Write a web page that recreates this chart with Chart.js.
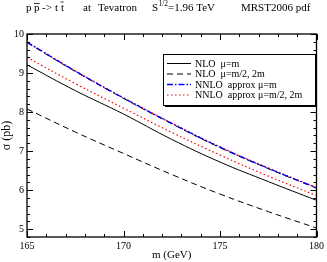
<!DOCTYPE html>
<html>
<head>
<meta charset="utf-8">
<script src="https://cdn.jsdelivr.net/npm/chart.js@4"></script>
<style>
  html, body { margin: 0; padding: 0; background: #fff; }
  #wrap { width: 327px; height: 262px; }
</style>
</head>
<body>
<div id="wrap"><canvas id="xsecChart" width="327" height="262"></canvas></div>
<script>
// top quark mass (GeV)
const mass = [165, 167.5, 170, 172.5, 175, 177.5, 180];

// cross sections (pb)
const nloCentral   = [9.21, 8.55, 7.95, 7.30, 6.72, 6.22, 5.74];
const nloLow       = [8.08, 7.49, 6.94, 6.40, 5.90, 5.45, 5.03];
const nloHigh      = [9.78, 9.04, 8.35, 7.70, 7.09, 6.55, 6.05];
const nnloCentral  = [9.79, 9.05, 8.36, 7.71, 7.10, 6.56, 6.06];
const nnloLow      = [9.40, 8.73, 8.10, 7.48, 6.90, 6.36, 5.86];
const nnloHigh     = [9.80, 9.06, 8.37, 7.72, 7.11, 6.57, 6.07];

const legendLabels = ["NLO  \u03bc=m", "NLO  \u03bc=m/2, 2m", "NNLO  approx \u03bc=m", "NNLO  approx \u03bc=m/2, 2m"];

const xTickLabels = [165, 170, 175, 180];
const yTickLabels = [5, 6, 7, 8, 9, 10];

const serif = '"Liberation Serif", "DejaVu Serif", serif';

function pts(ys) {
  return mass.map((m, i) => ({ x: m, y: ys[i] }));
}

const base = { fill: false, pointRadius: 0, tension: 0.4, borderWidth: 1 };

const datasets = [
  { ...base, label: legendLabels[0], data: pts(nloCentral), borderColor: "#000", order: 3 },
  { ...base, label: legendLabels[1], data: pts(nloLow), borderColor: "#000", borderDash: [6, 4], order: 4 },
  { ...base, label: "", data: pts(nloHigh), borderColor: "#000", borderDash: [6, 4], order: 5 },
  { ...base, label: legendLabels[3], data: pts(nnloLow), borderColor: "#ff0000", borderDash: [1.5, 2.5], borderWidth: 1.2, order: 2 },
  { ...base, label: "", data: pts(nnloHigh), borderColor: "#ff0000", borderDash: [1.5, 2.5], borderWidth: 1.2, order: 1 },
  { ...base, label: legendLabels[2], data: pts(nnloCentral), borderColor: "#0000ff", borderDash: [6, 2, 1.5, 2], borderWidth: 1.3, order: 0 }
];

// inward ticks on all four sides + frame
const frameTicks = {
  id: "frameTicks",
  afterDatasetsDraw(chart) {
    const { ctx, chartArea: a, scales } = chart;
    ctx.save();
    ctx.strokeStyle = "#000";
    ctx.lineWidth = 1;
    scales.x.ticks.forEach(t => {
      const px = Math.round(scales.x.getPixelForValue(t.value)) + 0.5;
      const len = xTickLabels.includes(t.value) ? 6 : 3;
      ctx.beginPath();
      ctx.moveTo(px, a.bottom); ctx.lineTo(px, a.bottom - len);
      ctx.moveTo(px, a.top); ctx.lineTo(px, a.top + len);
      ctx.stroke();
    });
    scales.y.ticks.forEach(t => {
      const py = Math.round(scales.y.getPixelForValue(t.value)) + 0.5;
      const major = yTickLabels.some(v => Math.abs(v - t.value) < 1e-6);
      const len = major ? 6 : 3;
      ctx.beginPath();
      ctx.moveTo(a.left, py); ctx.lineTo(a.left + len, py);
      ctx.moveTo(a.right, py); ctx.lineTo(a.right - len, py);
      ctx.stroke();
    });
    ctx.lineWidth = 1.3;
    ctx.strokeRect(a.left, a.top, a.right - a.left, a.bottom - a.top);
    ctx.restore();
  }
};

// legend box like grace
const boxLegend = {
  id: "boxLegend",
  afterDraw(chart) {
    const { ctx } = chart;
    const x0 = 163, y0 = 54, w = 152, h = 51;
    ctx.save();
    ctx.fillStyle = "#fff";
    ctx.fillRect(x0, y0, w, h);
    ctx.fillStyle = "#000";
    ctx.fillRect(x0 + 2, y0 + h, w, 2);
    ctx.fillRect(x0 + w, y0 + 2, 2, h);
    ctx.strokeStyle = "#000";
    ctx.lineWidth = 1;
    ctx.strokeRect(x0 + 0.5, y0 + 0.5, w, h);
    const order = [0, 1, 5, 3];
    ctx.font = "10px " + serif;
    ctx.textBaseline = "middle";
    order.forEach((di, row) => {
      const ds = chart.data.datasets[di];
      const y = y0 + 9.5 + row * 10.5;
      ctx.beginPath();
      ctx.strokeStyle = ds.borderColor;
      ctx.lineWidth = ds.borderWidth;
      ctx.setLineDash(ds.borderDash || []);
      ctx.moveTo(167, y); ctx.lineTo(191, y);
      ctx.stroke();
      ctx.setLineDash([]);
      ctx.fillStyle = "#000";
      ctx.fillText(ds.label, 195, y + 0.5);
    });
    ctx.restore();
  }
};

// title with overbars and superscript
const topTitle = {
  id: "topTitle",
  afterDraw(chart) {
    const { ctx } = chart;
    ctx.save();
    ctx.fillStyle = "#000";
    ctx.strokeStyle = "#000";
    ctx.textBaseline = "alphabetic";
    ctx.font = "11px " + serif;
    const by = 11;
    const bar = (x, txt, up) => {
      const w = ctx.measureText(txt).width;
      ctx.beginPath();
      ctx.lineWidth = 0.8;
      ctx.moveTo(x, by - up); ctx.lineTo(x + w, by - up);
      ctx.stroke();
    };
    ctx.fillText("p", 26, by);
    ctx.fillText("p", 34, by); bar(34, "p", 7.5);
    ctx.fillText("->", 42, by);
    ctx.fillText("t", 55, by);
    ctx.fillText("t", 61, by); bar(60.5, "t", 9);
    ctx.fillText("at", 83, by);
    ctx.fillText("Tevatron", 98, by);
    ctx.fillText("S", 152, by);
    ctx.font = "7.5px " + serif;
    ctx.fillText("1/2", 158.5, by - 5);
    ctx.font = "11px " + serif;
    ctx.fillText("=1.96 TeV", 168, by);
    ctx.fillText("MRST2006 pdf", 241, by);
    ctx.restore();
  }
};

new Chart(document.getElementById("xsecChart"), {
  type: "line",
  data: { datasets },
  plugins: [frameTicks, boxLegend, topTitle],
  options: {
    responsive: false,
    animation: false,
    devicePixelRatio: 1,
    layout: { padding: { left: 0, right: 9, top: 34, bottom: 0 } },
    plugins: { legend: { display: false }, tooltip: { enabled: false }, title: { display: false } },
    scales: {
      x: {
        type: "linear",
        min: 165, max: 180,
        grid: { display: false, drawTicks: false },
        border: { display: false },
        ticks: {
          stepSize: 1, padding: 3, color: "#000", maxRotation: 0, autoSkip: false,
          font: { family: serif, size: 10 },
          callback: v => xTickLabels.includes(v) ? String(v) : ""
        },
        title: { display: true, text: "m (GeV)", color: "#000", font: { family: serif, size: 11 }, padding: { top: 0, bottom: 0 } },
        afterFit: s => { s.height = 25; }
      },
      y: {
        type: "linear",
        min: 4.8, max: 10,
        grid: { display: false, drawTicks: false },
        border: { display: false },
        ticks: {
          stepSize: 0.2, padding: 3, color: "#000", autoSkip: false,
          font: { family: serif, size: 10 },
          callback: v => {
            const r = Math.round(v);
            return (Math.abs(v - r) < 1e-6 && yTickLabels.includes(r)) ? String(r) : "";
          }
        },
        title: { display: true, text: "\u03c3 (pb)", color: "#000", font: { family: serif, size: 12 }, padding: { top: 0, bottom: 0 } },
        afterFit: s => { s.width = 27; }
      }
    }
  }
});
</script>
</body>
</html>
